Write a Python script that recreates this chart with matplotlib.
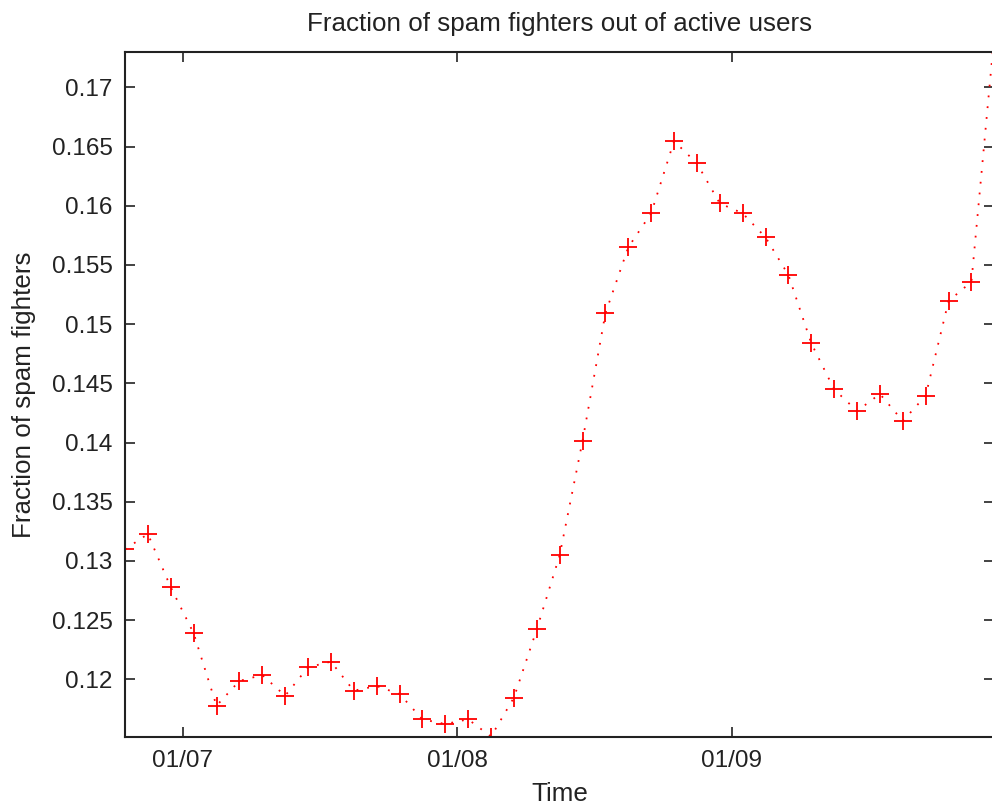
import matplotlib.pyplot as plt
import matplotlib.dates as mdates
import pandas as pd

# samples taken every 62 hours, starting late June
start = "2008-06-24 12:00"
n_points = 39
fraction = [0.13098, 0.13227, 0.12777, 0.12389, 0.11777, 0.11986, 0.12036,
            0.11861, 0.12101, 0.12149, 0.11904, 0.11943, 0.11876, 0.11662,
            0.11622, 0.11662, 0.11516, 0.11845, 0.12422, 0.13047, 0.14013,
            0.15091, 0.15649, 0.15936, 0.16546, 0.16358, 0.16020, 0.15936,
            0.15733, 0.15415, 0.14838, 0.14449, 0.14266, 0.14410, 0.14182,
            0.14395, 0.15195, 0.15358, 0.17442]
yticks = [0.12, 0.125, 0.13, 0.135, 0.14, 0.145, 0.15, 0.155, 0.16, 0.165, 0.17]
ytick_labels = ["0.12", "0.125", "0.13", "0.135", "0.14", "0.145", "0.15",
                "0.155", "0.16", "0.165", "0.17"]
xticks = ["2008-07-01", "2008-08-01", "2008-09-01"]

times = pd.date_range(start, periods=n_points, freq="62h")

plt.rcParams['font.family'] = ['Liberation Sans', 'DejaVu Sans']

fig = plt.figure(figsize=(9.92, 8.06), dpi=100)
ax = fig.add_axes([125 / 992, 68.7 / 806, 869.3 / 992, 685 / 806])

ax.plot(times, fraction, color="red", linestyle=(0, (1, 5)), linewidth=1.3,
        marker="+", markersize=13, markeredgewidth=1.3)

ax.set_xlim(times[0], times[-1])
ax.set_ylim(0.1151, 0.17296)

ax.set_yticks(yticks)
ax.set_yticklabels(ytick_labels)
ax.set_xticks(pd.to_datetime(xticks))
ax.xaxis.set_major_formatter(mdates.DateFormatter("%d/%m"))

ax.tick_params(direction="in", length=7, width=1.2, labelsize=17.5,
               top=True, right=True, colors="#222222", pad=9)
for s in ax.spines.values():
    s.set_linewidth(1.5)
    s.set_color("#222222")

ax.set_title("Fraction of spam fighters out of active users", fontsize=18.7,
             pad=15, color="#222222")
ax.set_xlabel("Time", fontsize=18.7, labelpad=7, color="#222222")
ax.set_ylabel("Fraction of spam fighters", fontsize=18.7, labelpad=11,
              color="#222222")

fig.savefig("out.png", dpi=100)
